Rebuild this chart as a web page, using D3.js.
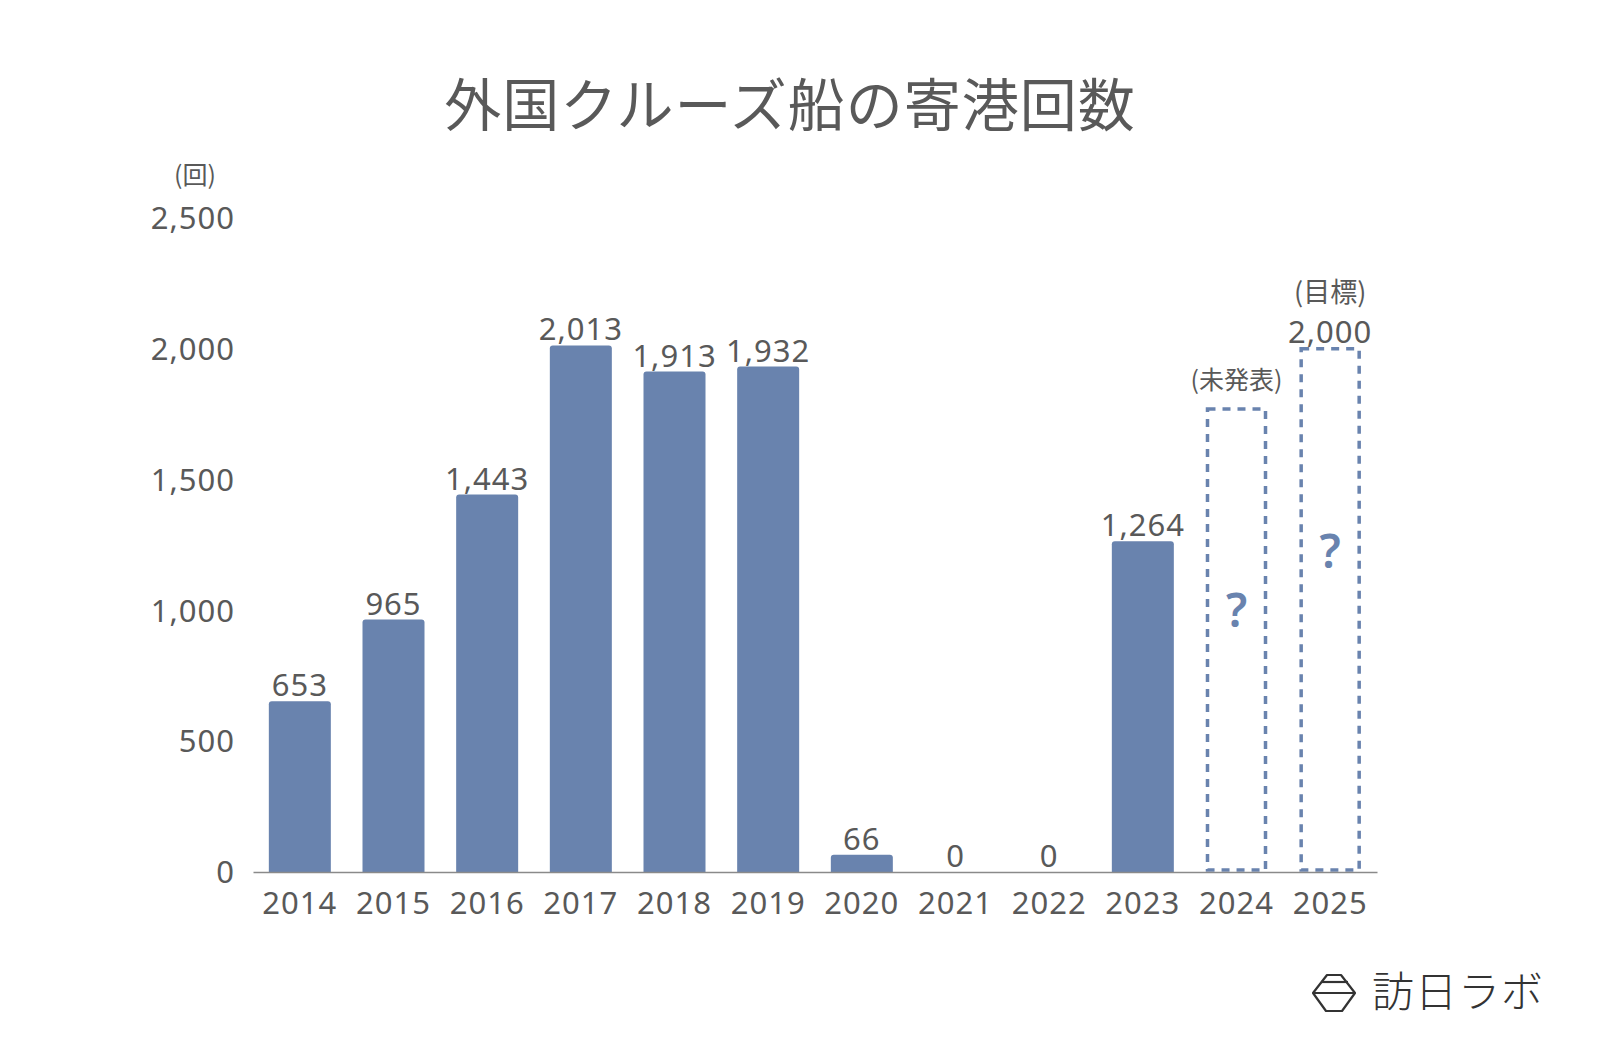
<!DOCTYPE html>
<html><head><meta charset="utf-8">
<script src="https://cdn.jsdelivr.net/npm/d3@7"></script>
<style>
html,body{margin:0;padding:0;background:#fff;}
svg{display:block;font-family:"Noto Sans CJK JP","Noto Sans",sans-serif;}
.num{font-family:"Noto Sans","Noto Sans CJK JP",sans-serif;}
</style></head>
<body><svg id="c" width="1600" height="1048"></svg>
<script>
const years = ["2014","2015","2016","2017","2018","2019","2020","2021","2022","2023","2024","2025"];
const values = [653,965,1443,2013,1913,1932,66,0,0,1264,null,null];
const placeholderYears = ["2024","2025"];
const placeholderValues = [1770,2000];
const placeholderNotes = ["(未発表)","(目標)"];
const placeholderLabels = ["","2,000"];
const questionPos = [1000,1225];
const yTicks = [0,500,1000,1500,2000,2500];

const svg = d3.select("#c");
const textColor = "#595959";
const barColor = "#6983ae";

const x = d3.scaleBand().domain(years).range([253,1377]).paddingInner(0.338).paddingOuter(0.169);
const y = d3.scaleLinear().domain([0,2500]).range([872,218]);
const fmt = d3.format(",");

// title
svg.append("text").attr("x",790).attr("y",126).attr("text-anchor","middle")
  .attr("font-size",57).attr("fill",textColor).attr("font-weight",400).attr("letter-spacing",1).text("外国クルーズ船の寄港回数");

// unit
svg.append("text").attr("x",195).attr("y",184).attr("text-anchor","middle")
  .attr("font-size",25).attr("fill",textColor).text("(回)");

// y tick labels
svg.append("g").selectAll("text").data(yTicks).join("text").attr("class","num")
  .attr("x",235).attr("y",d=>y(d)).attr("dy","0.36em").attr("text-anchor","end")
  .attr("font-size",31).attr("letter-spacing",1).attr("fill",textColor).text(d=>fmt(d));

// bars with rounded top
const r = 3;
const bars = years.map((yr,i)=>({yr,v:values[i]})).filter(d=>d.v!==null);
svg.append("g").selectAll("path").data(bars.filter(d=>d.v>0)).join("path")
  .attr("fill",barColor)
  .attr("d",d=>{
    const x0=x(d.yr), x1=x0+x.bandwidth(), y0=y(d.v), yb=y(0);
    return `M${x0},${yb}L${x0},${y0+r}Q${x0},${y0} ${x0+r},${y0}L${x1-r},${y0}Q${x1},${y0} ${x1},${y0+r}L${x1},${yb}Z`;
  });

// value labels
svg.append("g").selectAll("text").data(bars).join("text").attr("class","num")
  .attr("x",d=>x(d.yr)+x.bandwidth()/2).attr("y",d=>y(d.v)-5)
  .attr("text-anchor","middle").attr("font-size",31).attr("letter-spacing",1).attr("fill",textColor)
  .text(d=>fmt(d.v));

// placeholder dashed boxes
const ph = placeholderYears.map((yr,i)=>({yr,v:placeholderValues[i],note:placeholderNotes[i],label:placeholderLabels[i],q:questionPos[i]}));
const pg = svg.append("g");
pg.selectAll("rect").data(ph).join("rect")
  .attr("x",d=>x(d.yr)+2).attr("y",d=>y(d.v))
  .attr("width",x.bandwidth()-4).attr("height",d=>y(0)-y(d.v)-2)
  .attr("fill","none").attr("stroke",barColor).attr("stroke-width",3.5)
  .attr("stroke-dasharray","8,7");
pg.selectAll("text.q").data(ph).join("text").attr("class","q num")
  .attr("x",d=>x(d.yr)+x.bandwidth()/2).attr("y",d=>y(d.q)).attr("dy","0.36em")
  .attr("text-anchor","middle").attr("font-size",46).attr("font-weight",600)
  .attr("fill",barColor).text("?");
pg.selectAll("text.lab").data(ph.filter(d=>d.label)).join("text").attr("class","lab num")
  .attr("x",d=>x(d.yr)+x.bandwidth()/2).attr("y",d=>y(d.v)-6)
  .attr("text-anchor","middle").attr("font-size",31).attr("letter-spacing",1).attr("fill",textColor).text(d=>d.label);
pg.selectAll("text.note").data(ph).join("text").attr("class","note")
  .attr("x",d=>x(d.yr)+x.bandwidth()/2)
  .attr("y",(d,i)=>i===0? y(d.v)-20 : y(d.v)-47)
  .attr("text-anchor","middle").attr("font-size",(d,i)=>i===0?25:27).attr("fill",textColor).text(d=>d.note);

// x axis
const xAxis = svg.append("g").attr("transform",`translate(0,${y(0)})`).call(d3.axisBottom(x).tickSize(0).tickPadding(14));
xAxis.select(".domain").attr("stroke","#8a8a8a").attr("stroke-width",1.5);
xAxis.selectAll("text").attr("font-size",31).attr("letter-spacing",1).attr("fill",textColor)
  .attr("font-family",'"Noto Sans","Noto Sans CJK JP",sans-serif').attr("dy","0.9em");

// logo
const logo = svg.append("g").attr("fill","none").attr("stroke","#333").attr("stroke-width",2.2).attr("stroke-linejoin","round");
logo.append("path").attr("d","M1327,975 L1341,975 L1355,993 L1342,1011 L1326,1011 L1313,993 Z");
logo.append("path").attr("d","M1321,982 L1348,982");
logo.append("path").attr("d","M1313,993 L1355,993");
svg.append("text").attr("x",1372).attr("y",1007).attr("font-size",42).attr("font-weight",300)
  .attr("fill","#333").attr("letter-spacing",1).text("訪日ラボ");
</script></body></html>
